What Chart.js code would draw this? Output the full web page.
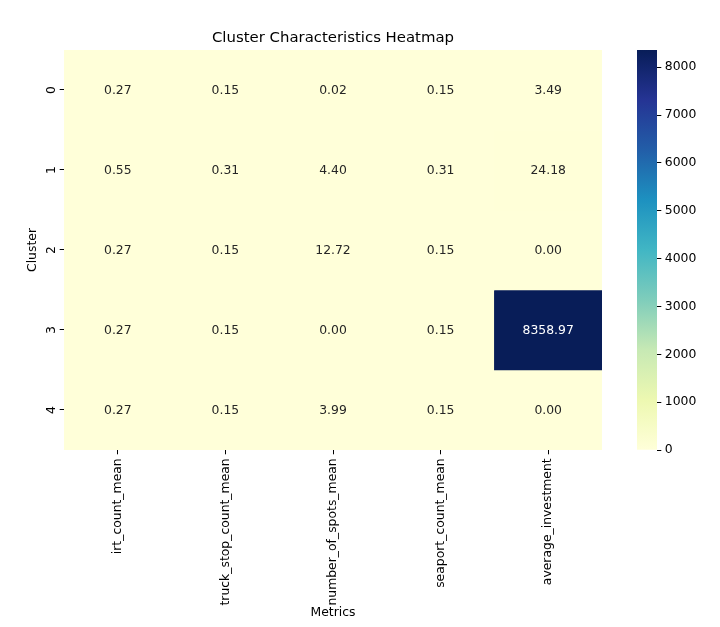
<!DOCTYPE html>
<html>
<head>
<meta charset="utf-8">
<script src="https://cdn.jsdelivr.net/npm/chart.js@4.4.1/dist/chart.umd.min.js"></script>
<style>
    html, body { margin: 0; padding: 0; background: #fff; }
    #wrap { position: relative; width: 720px; height: 627px; }
    #heatmap { position: absolute; left: 0; top: 0; }
    #colorbar { position: absolute; left: 620px; top: 0; }
</style>
</head>
<body>
<div id="wrap">
    <canvas id="heatmap" width="666" height="627"></canvas>
    <canvas id="colorbar" width="100" height="627"></canvas>
</div>
<script>
// --- Data ---
const metrics = ['irt_count_mean', 'truck_stop_count_mean', 'number_of_spots_mean', 'seaport_count_mean', 'average_investment'];
const clusters = ['0', '1', '2', '3', '4'];
const cluster0 = [0.27, 0.15, 0.02, 0.15, 3.49];
const cluster1 = [0.55, 0.31, 4.40, 0.31, 24.18];
const cluster2 = [0.27, 0.15, 12.72, 0.15, 0.00];
const cluster3 = [0.27, 0.15, 0.00, 0.15, 8358.97];
const cluster4 = [0.27, 0.15, 3.99, 0.15, 0.00];
const clusterRows = [cluster0, cluster1, cluster2, cluster3, cluster4];
const colorbarTicks = [0, 1000, 2000, 3000, 4000, 5000, 6000, 7000, 8000];

const FONT = '"DejaVu Sans", sans-serif';
const FS = 12.4;

// YlGnBu colormap stops
const ylGnBu = ['#ffffd9', '#edf8b1', '#c7e9b4', '#7fcdbb', '#41b6c4', '#1d91c0', '#225ea8', '#253494', '#081d58'];

const hexToRgb = (h) => [1, 3, 5].map(i => parseInt(h.substr(i, 2), 16));

const vMin = 0;
const vMax = Math.max(...clusterRows.flat());

function colorRgb(v) {
    let t = (v - vMin) / (vMax - vMin);
    t = Math.min(1, Math.max(0, t));
    const pos = t * (ylGnBu.length - 1);
    const i = Math.min(ylGnBu.length - 2, Math.floor(pos));
    const f = pos - i;
    const a = hexToRgb(ylGnBu[i]), b = hexToRgb(ylGnBu[i + 1]);
    return a.map((c, k) => Math.round(c + (b[k] - c) * f));
}
const colorFor = (v) => `rgb(${colorRgb(v).join(',')})`;

// same rule seaborn uses: dark text on light cells
function textColorFor(v) {
    const lum = colorRgb(v).map(c => {
        c = c / 255;
        return c <= 0.03928 ? c / 12.92 : Math.pow((c + 0.055) / 1.055, 2.4);
    });
    const l = 0.2126 * lum[0] + 0.7152 * lum[1] + 0.0722 * lum[2];
    return l > 0.408 ? '#262626' : '#ffffff';
}

// --- Cell labels + rotated y tick labels ---
const cellText = {
    id: 'cellText',
    afterDatasetsDraw(chart) {
        const ctx = chart.ctx;
        ctx.save();
        ctx.font = `${FS}px ${FONT}`;
        ctx.textAlign = 'center';
        ctx.textBaseline = 'middle';
        chart.data.datasets.forEach((ds, r) => {
            chart.getDatasetMeta(r).data.forEach((bar, c) => {
                const v = clusterRows[r][c];
                const p = bar.getCenterPoint();
                ctx.fillStyle = textColorFor(v);
                ctx.fillText(v.toFixed(2), p.x, p.y + 0.5);
            });
        });

        const ys = chart.scales.y;
        ctx.fillStyle = '#000';
        ctx.textBaseline = 'bottom';
        ys.ticks.forEach((t, i) => {
            const py = ys.getPixelForTick(i);
            ctx.save();
            ctx.translate(ys.right - 4.3 - 2, py);
            ctx.rotate(-Math.PI / 2);
            ctx.fillText(clusters[i], 0, 0);
            ctx.restore();
        });
        ctx.restore();
    }
};

const datasets = clusterRows.map((row, r) => ({
    label: 'Cluster ' + clusters[r],
    data: row.map(() => [r, r + 1]),
    backgroundColor: row.map(v => colorFor(v)),
    borderWidth: 0,
    barPercentage: 1,
    categoryPercentage: 1,
    grouped: false
}));

new Chart(document.getElementById('heatmap'), {
    type: 'bar',
    data: { labels: metrics, datasets: datasets },
    options: {
        responsive: false,
        animation: false,
        layout: { padding: { left: 0, right: 64, top: 0, bottom: 0 } },
        plugins: {
            legend: { display: false },
            tooltip: { enabled: false },
            title: {
                display: true,
                fullSize: false,
                text: 'Cluster Characteristics Heatmap',
                color: '#000',
                font: { family: FONT, size: 14.9, weight: 'normal' },
                padding: { top: 29.5, bottom: 2.6 }
            }
        },
        scales: {
            x: {
                type: 'category',
                afterFit: (s) => { s.height = 177; },
                border: { display: false },
                grid: { offset: false, drawOnChartArea: false, drawTicks: true, tickLength: 4.3, color: '#000' },
                ticks: {
                    color: '#000', font: { family: FONT, size: FS },
                    maxRotation: 90, minRotation: 90, padding: 4, autoSkip: false
                },
                title: {
                    display: true, text: 'Metrics', color: '#000',
                    font: { family: FONT, size: FS }, padding: { top: 0, bottom: 6.5 }
                }
            },
            y: {
                type: 'linear',
                min: 0,
                max: clusters.length,
                reverse: true,
                afterFit: (s) => { s.width = 64; },
                afterBuildTicks: (s) => { s.ticks = clusters.map((c, i) => ({ value: i + 0.5 })); },
                border: { display: false },
                grid: { drawOnChartArea: false, drawTicks: true, tickLength: 4.3, color: '#000' },
                ticks: { color: 'rgba(0,0,0,0)', font: { family: FONT, size: FS } },
                title: {
                    display: true, text: 'Cluster', color: '#000',
                    font: { family: FONT, size: FS }, padding: { top: 25, bottom: 0 }
                }
            }
        }
    },
    plugins: [cellText]
});

// --- Colorbar ---
new Chart(document.getElementById('colorbar'), {
    type: 'bar',
    data: {
        labels: [''],
        datasets: [{
            data: [[vMin, vMax]],
            borderWidth: 0,
            barPercentage: 1,
            categoryPercentage: 1,
            backgroundColor: (ctx) => {
                const area = ctx.chart.chartArea;
                if (!area) return ylGnBu[0];
                const g = ctx.chart.ctx.createLinearGradient(0, area.bottom, 0, area.top);
                ylGnBu.forEach((c, i) => g.addColorStop(i / (ylGnBu.length - 1), c));
                return g;
            }
        }]
    },
    options: {
        responsive: false,
        animation: false,
        layout: { padding: { left: 17, right: 0, top: 50, bottom: 177 } },
        plugins: { legend: { display: false }, tooltip: { enabled: false } },
        scales: {
            x: { display: false },
            y: {
                position: 'right',
                min: vMin,
                max: vMax,
                afterFit: (s) => { s.width = 63; },
                afterBuildTicks: (s) => { s.ticks = colorbarTicks.map(v => ({ value: v })); },
                border: { display: false },
                grid: { drawOnChartArea: false, drawTicks: true, tickLength: 4.3, color: '#000' },
                ticks: { color: '#000', font: { family: FONT, size: FS }, padding: 3.5, callback: (v) => String(v) }
            }
        }
    }
});
</script>
</body>
</html>
